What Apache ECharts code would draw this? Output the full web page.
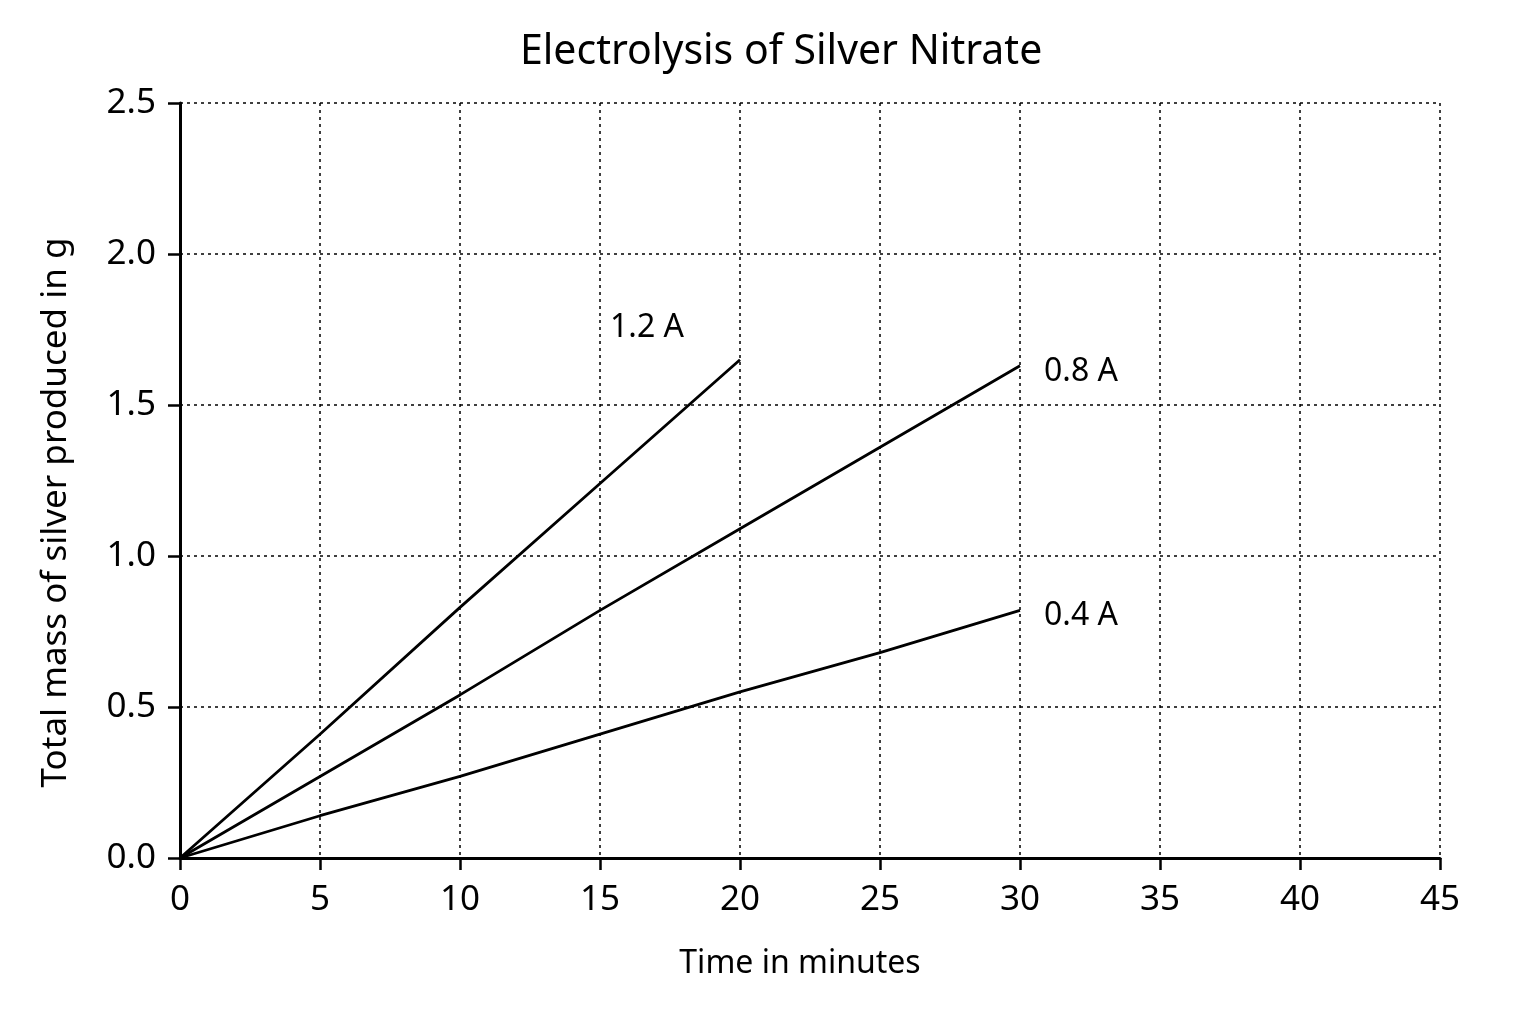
<!doctype html>
<html>
<head>
    <meta charset="utf-8">
    <title>Electrolysis of Silver Nitrate</title>
    <script src="https://cdn.jsdelivr.net/npm/echarts@6/dist/echarts.min.js"></script>
    <style>
        html, body { margin: 0; padding: 0; background: #fff; }
        #main { width: 1536px; height: 1024px; }
    </style>
</head>
<body>
<div id="main"></div>
<script type="text/javascript">
    // time in minutes
    var times20 = [0, 5, 10, 15, 20];
    var times30 = [0, 5, 10, 15, 20, 25, 30];
    // total mass of silver in g
    var mass12 = [0, 0.41, 0.83, 1.24, 1.65];
    var mass08 = [0, 0.27, 0.54, 0.82, 1.09, 1.36, 1.63];
    var mass04 = [0, 0.14, 0.27, 0.41, 0.55, 0.68, 0.82];
    var seriesNames = ['1.2 A', '0.8 A', '0.4 A'];

    function pairs(xs, ys) {
        return xs.map(function (x, i) { return [x, ys[i]]; });
    }

    var font = 'Noto Sans';
    var chart = echarts.init(document.getElementById('main'));

    function lineSeries(name, data, offset) {
        return {
            name: name,
            type: 'line',
            data: data,
            symbol: 'none',
            silent: true,
            lineStyle: { color: '#000', width: 2.8 },
            endLabel: {
                show: true,
                formatter: name,
                fontFamily: font,
                fontSize: 32,
                color: '#000',
                distance: 24,
                offset: offset
            }
        };
    }

    var option = {
        animation: false,
        backgroundColor: '#fff',
        title: {
            text: 'Electrolysis of Silver Nitrate',
            left: 515,
            top: 27,
            textStyle: { fontFamily: font, fontSize: 41, fontWeight: 'normal', color: '#000' }
        },
        grid: { left: 180, right: 96, top: 103, bottom: 166 },
        xAxis: {
            type: 'value',
            min: 0, max: 45, interval: 5,
            name: 'Time in minutes',
            nameLocation: 'middle',
            nameGap: 90,
            nameTextStyle: { fontFamily: font, fontSize: 32, color: '#000', padding: [0, 20, 0, 0] },
            axisLine: { lineStyle: { color: '#000', width: 3 } },
            axisTick: { show: true, length: 12, lineStyle: { color: '#000', width: 2.5 } },
            axisLabel: { fontFamily: font, fontSize: 35, color: '#000', margin: 25 },
            splitLine: { show: true, lineStyle: { color: '#000', width: 1.5, type: [3, 4] } }
        },
        yAxis: {
            type: 'value',
            min: 0, max: 2.5, interval: 0.5,
            name: 'Total mass of silver produced in g',
            nameLocation: 'middle',
            nameGap: 106,
            nameTextStyle: { fontFamily: font, fontSize: 35, color: '#000', padding: [0, 64, 0, 0] },
            axisLine: { show: true, lineStyle: { color: '#000', width: 3 } },
            axisTick: { show: true, length: 12, lineStyle: { color: '#000', width: 2.5 } },
            axisLabel: {
                fontFamily: font, fontSize: 35, color: '#000', margin: 24,
                formatter: function (v) { return v.toFixed(1); }
            },
            splitLine: { show: true, lineStyle: { color: '#000', width: 1.5, type: [3, 4] } }
        },
        series: [
            lineSeries(seriesNames[0], pairs(times20, mass12), [-154, -32]),
            lineSeries(seriesNames[1], pairs(times30, mass08), [0, 6]),
            lineSeries(seriesNames[2], pairs(times30, mass04), [0, 6])
        ]
    };

    chart.setOption(option);
</script>
</body>
</html>
